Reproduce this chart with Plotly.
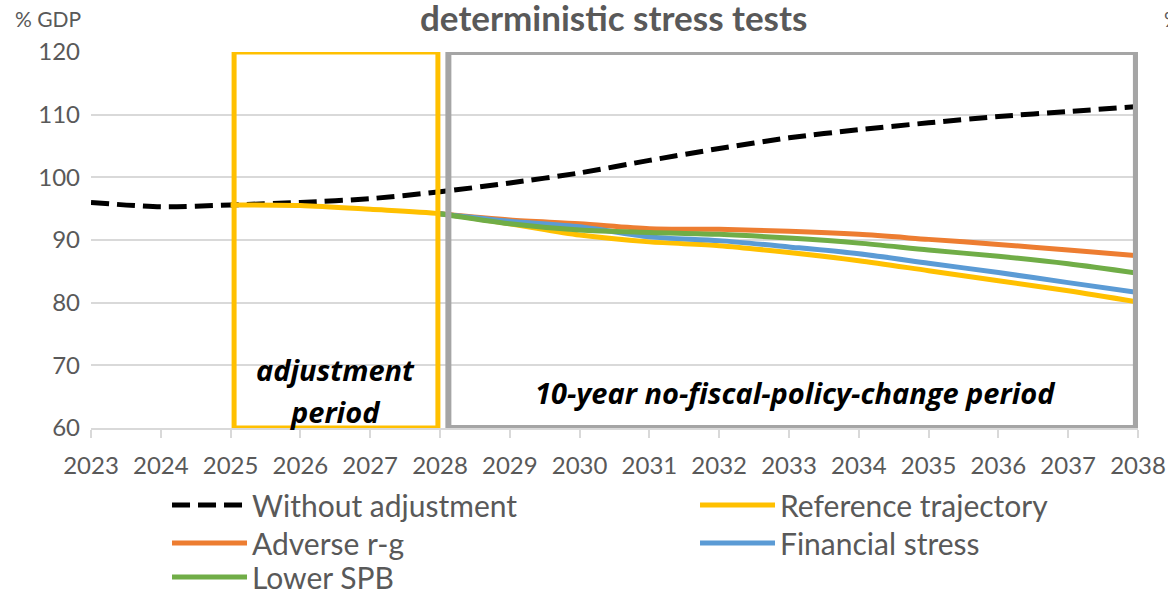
import plotly.graph_objects as go

# Debt ratio projections, % of GDP
years = list(range(2023, 2039))
without_adjustment = [96.0, 95.3, 95.6, 96.0, 96.6, 97.7, 99.1, 100.7,
                      102.7, 104.6, 106.3, 107.6, 108.7, 109.7, 110.5, 111.3]
reference_trajectory = [None, None, 95.6, 95.5, 94.9, 94.2, 92.6, 90.8,
                        89.7, 89.1, 88.0, 86.7, 85.1, 83.5, 81.9, 80.1]
adverse_rg = [None, None, None, None, None, 94.2, 93.2, 92.6,
              91.8, 91.7, 91.4, 90.9, 90.1, 89.3, 88.4, 87.5]
financial_stress = [None, None, None, None, None, 94.2, 93.0, 92.1,
                    90.5, 89.9, 88.9, 87.8, 86.3, 84.8, 83.2, 81.6]
lower_spb = [None, None, None, None, None, 94.2, 92.6, 91.6,
             91.2, 90.9, 90.3, 89.5, 88.4, 87.4, 86.2, 84.7]

series_names = ["Without adjustment", "Reference trajectory", "Adverse r-g",
                "Financial stress", "Lower SPB"]
series_values = [without_adjustment, reference_trajectory, adverse_rg,
                 financial_stress, lower_spb]
series_colors = ["#000000", "#FFC000", "#ED7D31", "#5B9BD5", "#70AD47"]
series_dash = ["18px,8px", "solid", "solid", "solid", "solid"]

y_ticks = [60, 70, 80, 90, 100, 110, 120]
adjustment_period = (2025.05, 2027.97)
no_policy_change_period = (2028.12, 2037.97)

FONT = "Lato"
BOX_FONT = "Open Sans"
GREY_TEXT = "#595959"

# Each legend entry sits in its own legend box: two columns, three rows
legend_ids = ["legend", "legend2", "legend3", "legend4", "legend5"]
legend_x = [0.0726, 0.5769, 0.0726, 0.5769, 0.0726]
legend_y = [-0.2048, -0.2048, -0.3059, -0.3059, -0.3963]

fig = go.Figure()
for name, vals, col, dash, lid in zip(series_names, series_values, series_colors,
                                      series_dash, legend_ids):
    fig.add_trace(go.Scatter(
        x=years, y=vals, name=name, mode="lines", legend=lid,
        line=dict(color=col, width=5, dash=dash, shape="spline", smoothing=0.8),
        connectgaps=False, hoverinfo="x+y+name",
    ))

# Period boxes
fig.add_shape(type="rect", xref="x", yref="y",
              x0=adjustment_period[0], x1=adjustment_period[1], y0=60, y1=120,
              line=dict(color="#FFC000", width=5), layer="above")
fig.add_shape(type="rect", xref="x", yref="y",
              x0=no_policy_change_period[0], x1=no_policy_change_period[1], y0=60, y1=120,
              line=dict(color="#A5A5A5", width=6), layer="above")

box_font = dict(family=BOX_FONT, size=29, color="#000000", weight=700, style="italic")
annotations = [
    dict(text="adjustment", x=2026.5, y=69.3, xref="x", yref="y",
         showarrow=False, font=box_font),
    dict(text="period", x=2026.5, y=62.6, xref="x", yref="y",
         showarrow=False, font=box_font),
    dict(text="10-year no-fiscal-policy-change period", x=2033.1, y=65.7,
         xref="x", yref="y", showarrow=False, font=box_font),
    dict(text="<b>deterministic stress tests</b>", x=0.4995, y=1.093, xref="paper", yref="paper",
         xanchor="center", yanchor="middle", showarrow=False,
         font=dict(family=FONT, size=35, color=GREY_TEXT)),
    dict(text="% GDP", x=-0.0745, y=1.088, xref="paper", yref="paper",
         xanchor="left", yanchor="middle", showarrow=False,
         font=dict(family=FONT, size=21, color=GREY_TEXT)),
    dict(text="% GDP", x=1.0229, y=1.088, xref="paper", yref="paper",
         xanchor="left", yanchor="middle", showarrow=False,
         font=dict(family=FONT, size=21, color=GREY_TEXT)),
]

layout_legends = {}
for lid, lx, ly in zip(legend_ids, legend_x, legend_y):
    layout_legends[lid] = dict(
        orientation="h", x=lx, y=ly, xanchor="left", yanchor="middle",
        itemwidth=75, font=dict(family=FONT, size=30, color=GREY_TEXT),
        bgcolor="rgba(0,0,0,0)", borderwidth=0,
    )

fig.update_layout(
    width=1168, height=592,
    margin=dict(l=91, r=30, t=52, b=164, autoexpand=False),
    paper_bgcolor="white", plot_bgcolor="white",
    font=dict(family=FONT, color=GREY_TEXT),
    annotations=annotations,
    showlegend=True,
    xaxis=dict(
        range=[2023, 2038], tickvals=years, ticktext=[str(y) for y in years],
        showgrid=False, zeroline=False,
        showline=True, linecolor="#d9d9d9", linewidth=2,
        ticks="outside", ticklen=8, tickcolor="#d9d9d9", tickwidth=2,
        tickfont=dict(family=FONT, size=24, color=GREY_TEXT),
        ticklabelstandoff=7, fixedrange=True,
    ),
    yaxis=dict(
        range=[60, 120], tickvals=y_ticks,
        showgrid=True, gridcolor="#d9d9d9", gridwidth=2,
        zeroline=False, showline=False, ticks="",
        tickfont=dict(family=FONT, size=24, color=GREY_TEXT),
        ticklabelstandoff=10, fixedrange=True,
    ),
    **layout_legends,
)

fig.write_html("out.html")
